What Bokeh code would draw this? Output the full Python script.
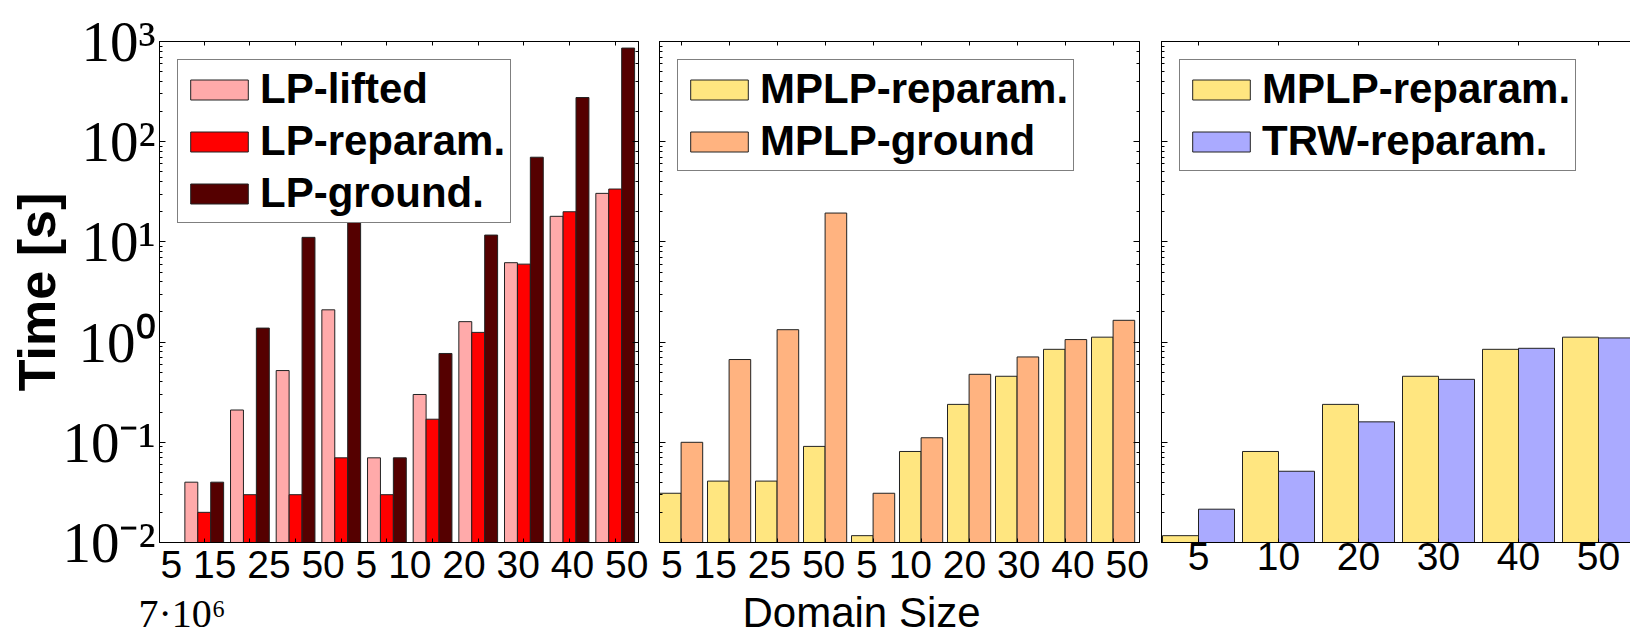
import math
from bokeh.plotting import figure
from bokeh.layouts import row
from bokeh.models import (FixedTicker, LogAxis, LinearAxis, LogTicker, Legend, LegendItem,
                          CustomJSTickFormatter, Title, ColumnDataSource, Range1d)
from bokeh.transform import dodge
from bokeh.embed import file_html
from bokeh.resources import INLINE

# ---------------- data ----------------
sizes_1 = ["5", "15", "25", "50", "5", "10", "20", "30", "40", "50"]
lp_lifted = [0.04, 0.21, 0.52, 2.1, 0.07, 0.30, 1.6, 6.2, 18.0, 30.5]
lp_reparam = [0.02, 0.03, 0.03, 0.07, 0.03, 0.17, 1.25, 6.0, 20.0, 33.7]
lp_ground = [0.04, 1.38, 11.1, 90.0, 0.07, 0.77, 11.7, 70.0, 276.0, 860.0]

sizes_2 = ["5", "15", "25", "50", "5", "10", "20", "30", "40", "50"]
mplp_reparam_2 = [0.031, 0.041, 0.041, 0.091, 0.0117, 0.081, 0.239, 0.456, 0.847, 1.12]
mplp_ground_2 = [0.10, 0.67, 1.33, 19.4, 0.031, 0.111, 0.477, 0.711, 1.06, 1.65]

sizes_3 = ["5", "10", "20", "30", "40", "50"]
mplp_reparam_3 = [0.0117, 0.081, 0.239, 0.456, 0.847, 1.12]
trw_reparam_3 = [0.0215, 0.0514, 0.16, 0.425, 0.867, 1.10]

C_LIFT, C_REP, C_GRD = "#FFAAAA", "#FF0000", "#550000"
C_MREP, C_MGRD, C_TRW = "#FFE680", "#FFB380", "#AAAAFF"

SANS = "Liberation Sans"
SERIF = "Liberation Serif"
XFONT = "39px"
H = 636
TOP = 41
BOTTOM = 94

SUP = CustomJSTickFormatter(code="""
const m = {'-': '\u207b', '0': '\u2070', '1': '\u00b9', '2': '\u00b2', '3': '\u00b3',
           '4': '\u2074', '5': '\u2075', '6': '\u2076', '7': '\u2077', '8': '\u2078', '9': '\u2079'};
const e = Math.round(Math.log10(tick));
return '10' + String(e).split('').map(c => m[c]).join('');
""")


def blank(ax):
    ax.formatter = CustomJSTickFormatter(code="return ''")
    ax.major_label_text_font_size = "0px"
    ax.major_label_standoff = 0


def style(ax, major_in=6):
    ax.axis_line_color = "black"
    ax.axis_line_width = 1
    ax.major_tick_in = major_in
    ax.major_tick_out = 0
    ax.minor_tick_in = 3
    ax.minor_tick_out = 0
    ax.major_tick_line_color = "black"
    ax.minor_tick_line_color = "black"


def make_fig(width, xr, bl, br, n, right_axis=True):
    p = figure(width=width, height=H, x_range=xr, y_range=Range1d(1e-2, 1e3),
               y_axis_type="log", output_backend="svg", toolbar_location=None,
               min_border_left=bl, min_border_right=br, min_border_top=TOP,
               min_border_bottom=BOTTOM)
    p.xgrid.visible = False
    p.ygrid.visible = False
    p.outline_line_color = None
    p.background_fill_color = "white"
    p.border_fill_color = "white"
    ticks = list(range(n))
    bottom = p.below[0]
    left = p.left[0]
    bottom.ticker = FixedTicker(ticks=ticks)
    style(bottom, 4)
    style(left)
    top = LinearAxis(ticker=FixedTicker(ticks=ticks))
    style(top, 4)
    blank(top)
    p.add_layout(top, "above")
    if right_axis:
        ra = LogAxis(ticker=LogTicker())
        style(ra)
        blank(ra)
        p.add_layout(ra, "right")
    return p, bottom, left


def legend(items):
    return Legend(items=items, location="top_left", margin=18, padding=5, spacing=4,
                  glyph_width=72, glyph_height=25, label_standoff=5,
                  label_text_font=SANS, label_text_font_size="42px", label_text_font_style="bold",
                  label_text_color="black",
                  border_line_color="black", border_line_width=1, background_fill_color="white",
                  background_fill_alpha=1.0)


def string_label(ax, text):
    blank(ax)
    ax.axis_label = "\u00a0" + text
    ax.axis_label_text_font = SANS
    ax.axis_label_text_font_size = XFONT
    ax.axis_label_text_font_style = "normal"
    ax.axis_label_text_color = "black"
    ax.axis_label_standoff = 0


BAR_LINE = dict(line_color="#222222", line_width=1)

# ---------------- panel 1 ----------------
src1 = ColumnDataSource(dict(x=list(range(len(sizes_1))), lifted=lp_lifted,
                             reparam=lp_reparam, ground=lp_ground))
p1, b1, l1 = make_fig(648, Range1d(-0.98, 9.51), 159, 10, len(sizes_1))
w1 = 0.283
r11 = p1.vbar(x=dodge("x", -w1, range=p1.x_range), top="lifted", bottom=1e-3, width=w1,
              source=src1, fill_color=C_LIFT, **BAR_LINE)
r12 = p1.vbar(x=dodge("x", 0, range=p1.x_range), top="reparam", bottom=1e-3, width=w1,
              source=src1, fill_color=C_REP, **BAR_LINE)
r13 = p1.vbar(x=dodge("x", w1, range=p1.x_range), top="ground", bottom=1e-3, width=w1,
              source=src1, fill_color=C_GRD, **BAR_LINE)
l1.formatter = SUP
l1.major_label_text_font = SERIF
l1.major_label_text_font_size = "57px"
l1.major_label_text_color = "black"
l1.major_label_standoff = 4
l1.axis_label = "Time [s]"
l1.axis_label_text_font = SANS
l1.axis_label_text_font_size = "52px"
l1.axis_label_text_font_style = "bold"
l1.axis_label_text_color = "black"
l1.axis_label_standoff = -7
string_label(b1, " ".join(sizes_1))
p1.add_layout(legend([LegendItem(label="LP-lifted", renderers=[r11]),
                      LegendItem(label="LP-reparam.", renderers=[r12]),
                      LegendItem(label="LP-ground.", renderers=[r13])]), "center")
p1.add_layout(Title(text="7\u00b710\u2076", align="left", offset=-21, standoff=0,
                    text_font=SERIF, text_font_size="40px", text_font_style="normal",
                    text_color="black"), "below")

# ---------------- panel 2 ----------------
src2 = ColumnDataSource(dict(x=list(range(len(sizes_2))), rep=mplp_reparam_2, grd=mplp_ground_2))
p2, b2, l2 = make_fig(502, Range1d(-0.45, 9.55), 11, 11, len(sizes_2))
w2 = 0.45
r21 = p2.vbar(x=dodge("x", -w2 / 2, range=p2.x_range), top="rep", bottom=1e-3, width=w2,
              source=src2, fill_color=C_MREP, **BAR_LINE)
r22 = p2.vbar(x=dodge("x", w2 / 2, range=p2.x_range), top="grd", bottom=1e-3, width=w2,
              source=src2, fill_color=C_MGRD, **BAR_LINE)
blank(l2)
string_label(b2, " ".join(sizes_2))
p2.add_layout(legend([LegendItem(label="MPLP-reparam.", renderers=[r21]),
                      LegendItem(label="MPLP-ground", renderers=[r22])]), "center")
p2.add_layout(Title(text="Domain Size", align="left", offset=83, standoff=-4,
                    text_font=SANS, text_font_size="42px", text_font_style="normal",
                    text_color="black"), "below")

# ---------------- panel 3 ----------------
src3 = ColumnDataSource(dict(x=list(range(len(sizes_3))), rep=mplp_reparam_3, trw=trw_reparam_3))
p3, b3, l3 = make_fig(480, Range1d(-0.4625, -0.4625 + 469 / 80), 11, 0, len(sizes_3),
                      right_axis=False)
w3 = 0.45
r31 = p3.vbar(x=dodge("x", -w3 / 2, range=p3.x_range), top="rep", bottom=1e-3, width=w3,
              source=src3, fill_color=C_MREP, **BAR_LINE)
r32 = p3.vbar(x=dodge("x", w3 / 2, range=p3.x_range), top="trw", bottom=1e-3, width=w3,
              source=src3, fill_color=C_TRW, **BAR_LINE)
blank(l3)
b3.major_label_overrides = {i: s for i, s in enumerate(sizes_3)}
b3.major_label_text_font = SANS
b3.major_label_text_font_size = XFONT
b3.major_label_text_color = "black"
b3.major_label_standoff = 0
p3.add_layout(legend([LegendItem(label="MPLP-reparam.", renderers=[r31]),
                      LegendItem(label="TRW-reparam.", renderers=[r32])]), "center")

layout = row(p1, p2, p3, spacing=0)
with open("out.html", "w", encoding="utf-8") as f:
    f.write(file_html(layout, INLINE))
